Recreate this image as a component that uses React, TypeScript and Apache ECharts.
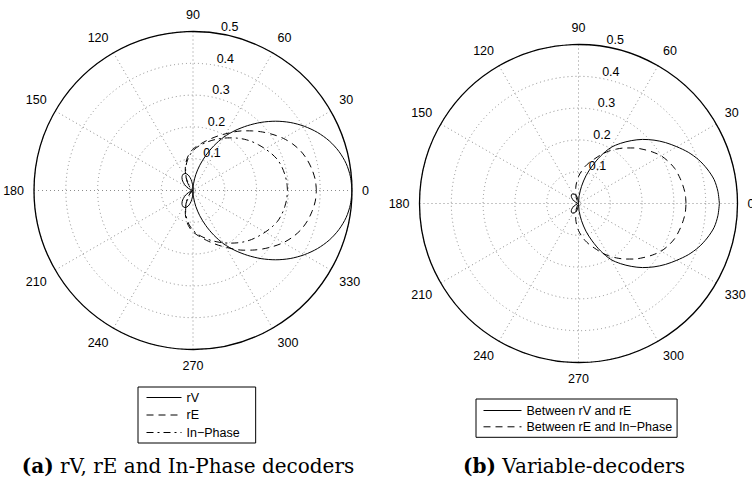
import React, { useEffect, useRef } from 'react';
import * as echarts from 'echarts';

// angles (degrees) at which the patterns were read
const ANGLES = [0, 5, 10, 15, 20, 25, 30, 35, 40, 45, 50, 55, 60, 65, 70, 75, 80, 85, 90,
  95, 100, 105, 110, 115, 120, 125, 130, 135, 140, 145, 150, 155, 160, 165, 170, 175, 180,
  185, 190, 195, 200, 205, 210, 215, 220, 225, 230, 235, 240, 245, 250, 255, 260, 265, 270,
  275, 280, 285, 290, 295, 300, 305, 310, 315, 320, 325, 330, 335, 340, 345, 350, 355, 360];

// (a) rV, rE and In-Phase decoders
const RV = [0.500, 0.497, 0.489, 0.475, 0.456, 0.432, 0.404, 0.373, 0.339, 0.303, 0.266, 0.230, 0.194, 0.155, 0.117, 0.082, 0.051, 0.023, 0,
  0.020, 0.035, 0.047, 0.055, 0.059, 0.060, 0.058, 0.054, 0.048, 0.040, 0.032, 0.024, 0.016, 0.008, 0.002, 0, 0, 0,
  0, 0, 0.002, 0.008, 0.016, 0.024, 0.032, 0.040, 0.048, 0.054, 0.058, 0.060, 0.059, 0.055, 0.047, 0.035, 0.020, 0,
  0.023, 0.051, 0.082, 0.117, 0.155, 0.194, 0.230, 0.266, 0.303, 0.339, 0.373, 0.404, 0.432, 0.456, 0.475, 0.489, 0.497, 0.500];
const RE = [0.388, 0.386, 0.380, 0.372, 0.361, 0.346, 0.328, 0.307, 0.286, 0.265, 0.245, 0.225, 0.206, 0.190, 0.175, 0.162, 0.150, 0.140, 0.130,
  0.118, 0.104, 0.088, 0.071, 0.055, 0.040, 0.029, 0.020, 0.013, 0.008, 0.004, 0.002, 0.001, 0, 0, 0, 0, 0,
  0, 0, 0, 0, 0.001, 0.002, 0.004, 0.008, 0.013, 0.020, 0.029, 0.040, 0.055, 0.071, 0.088, 0.104, 0.118, 0.130,
  0.140, 0.150, 0.162, 0.175, 0.190, 0.206, 0.225, 0.245, 0.265, 0.286, 0.307, 0.328, 0.346, 0.361, 0.372, 0.380, 0.386, 0.388];
const IN_PHASE = [0.297, 0.296, 0.293, 0.289, 0.283, 0.273, 0.262, 0.251, 0.240, 0.228, 0.215, 0.202, 0.190, 0.178, 0.167, 0.156, 0.146, 0.136, 0.125,
  0.112, 0.098, 0.083, 0.068, 0.053, 0.040, 0.029, 0.020, 0.013, 0.008, 0.004, 0.002, 0.001, 0, 0, 0, 0, 0,
  0, 0, 0, 0, 0.001, 0.002, 0.004, 0.008, 0.013, 0.020, 0.029, 0.040, 0.053, 0.068, 0.083, 0.098, 0.112, 0.125,
  0.136, 0.146, 0.156, 0.167, 0.178, 0.190, 0.202, 0.215, 0.228, 0.240, 0.251, 0.262, 0.273, 0.283, 0.289, 0.293, 0.296, 0.297];

// (b) Variable-decoders
const RV_RE = [0.443, 0.440, 0.433, 0.419, 0.402, 0.381, 0.357, 0.334, 0.310, 0.285, 0.258, 0.231, 0.203, 0.165, 0.125, 0.090, 0.055, 0.025, 0,
  0.009, 0.018, 0.025, 0.030, 0.033, 0.035, 0.036, 0.035, 0.032, 0.028, 0.022, 0.016, 0.010, 0.005, 0.002, 0, 0, 0,
  0, 0, 0.002, 0.005, 0.010, 0.016, 0.022, 0.028, 0.032, 0.035, 0.036, 0.035, 0.033, 0.030, 0.025, 0.018, 0.009, 0,
  0.025, 0.055, 0.090, 0.125, 0.165, 0.203, 0.231, 0.258, 0.285, 0.310, 0.334, 0.357, 0.381, 0.402, 0.419, 0.433, 0.440, 0.443];
const RE_INPHASE = [0.338, 0.337, 0.333, 0.328, 0.322, 0.312, 0.300, 0.283, 0.265, 0.247, 0.228, 0.209, 0.190, 0.170, 0.150, 0.134, 0.118, 0.101, 0.085,
  0.067, 0.050, 0.034, 0.020, 0.011, 0.005, 0.002, 0, 0, 0, 0, 0, 0, 0, 0, 0, 0, 0,
  0, 0, 0, 0, 0, 0, 0, 0, 0, 0, 0.002, 0.005, 0.011, 0.020, 0.034, 0.050, 0.067, 0.085,
  0.101, 0.118, 0.134, 0.150, 0.170, 0.190, 0.209, 0.228, 0.247, 0.265, 0.283, 0.300, 0.312, 0.322, 0.328, 0.333, 0.337, 0.338];

const ANGLE_MIN = 0;
const ANGLE_MAX = 360;
const ANGLE_STEP = 30;
const RADIUS_MIN = 0;
const RADIUS_MAX = 0.5;
const RADIUS_STEP = 0.1;

const SERIES_A = ['rV', 'rE', 'In\u2212Phase'];
const SERIES_B = ['Between rV and rE', 'Between rE and In\u2212Phase'];
const CAPTION_A = ['(a)', 'rV, rE and In-Phase decoders'];
const CAPTION_B = ['(b)', 'Variable-decoders'];

const SANS = 'Liberation Sans, Arial, Helvetica, sans-serif';
const SERIF = 'DejaVu Serif, serif';
const DOT = [1, 3];
const DASH = [7, 5];
const DASHDOT = [7, 4, 2, 4];
const TRANSPARENT = 'rgba(0,0,0,0)';

const R = 159;
const CENTERS: [number, number][] = [[193, 190.5], [578.5, 203.5]];

function App() {
  const ref = useRef<HTMLDivElement>(null);
  useEffect(() => {
    if (!ref.current) return;
    const chart = echarts.init(ref.current, null, { renderer: 'svg' });

    const polar: any[] = [];
    const angleAxis: any[] = [];
    const radiusAxis: any[] = [];
    CENTERS.forEach((c) => {
      polar.push({ center: c, radius: R }); // grid + curves
      polar.push({ center: c, radius: R }); // radius tick labels along the 82 degree ray
    });
    CENTERS.forEach((_c, k) => {
      const pi = k * 2;
      angleAxis.push({
        polarIndex: pi, type: 'value', min: ANGLE_MIN, max: ANGLE_MAX, interval: ANGLE_STEP,
        startAngle: 0, clockwise: false, z: 1,
        axisLine: { show: true, lineStyle: { color: '#000', width: 1.3 } },
        axisTick: { show: false },
        axisLabel: {
          show: true, margin: 10, color: '#000', fontSize: 12.5, fontFamily: SANS,
          formatter: (v: number) => (v >= ANGLE_MAX ? '' : String(v)),
        },
        splitLine: { show: true, lineStyle: { color: '#8c8c8c', width: 1, type: DOT } },
      });
      radiusAxis.push({
        polarIndex: pi, type: 'value', min: RADIUS_MIN, max: RADIUS_MAX, interval: RADIUS_STEP,
        axisLine: { show: false }, axisTick: { show: false }, axisLabel: { show: false },
        splitLine: { show: true, lineStyle: { color: '#8c8c8c', width: 1, type: DOT } },
      });
      angleAxis.push({
        polarIndex: pi + 1, type: 'value', min: ANGLE_MIN, max: ANGLE_MAX, startAngle: 82, show: false,
      });
      radiusAxis.push({
        polarIndex: pi + 1, type: 'value', min: RADIUS_MIN, max: RADIUS_MAX, interval: RADIUS_STEP,
        axisLine: { show: false }, axisTick: { show: false }, splitLine: { show: false },
        axisLabel: {
          show: true, showMinLabel: false, margin: -6, color: '#000', fontSize: 12.5, fontFamily: SANS,
          align: 'left', verticalAlign: 'bottom',
          formatter: (v: number) => v.toFixed(1),
        },
      });
    });

    const mk = (name: string, vals: number[], polarIndex: number, type: any) => ({
      type: 'line', name, coordinateSystem: 'polar', polarIndex,
      data: ANGLES.map((a, i) => [vals[i], a]),
      symbol: 'none', smooth: 0.3, z: 5,
      lineStyle: { color: '#000', width: 1, type },
      itemStyle: { color: '#000' },
    });

    const series = [
      mk(SERIES_A[0], RV, 0, 'solid'),
      mk(SERIES_A[1], RE, 0, DASH),
      mk(SERIES_A[2], IN_PHASE, 0, DASHDOT),
      mk(SERIES_B[0], RV_RE, 2, 'solid'),
      mk(SERIES_B[1], RE_INPHASE, 2, DASH),
    ];

    const legendCommon = {
      orient: 'vertical', backgroundColor: '#fff', borderColor: '#000', borderWidth: 1, borderRadius: 0,
      itemHeight: 12, selectedMode: false,
      itemStyle: { color: TRANSPARENT, borderColor: TRANSPARENT, borderWidth: 0, opacity: 0 },
      lineStyle: { color: '#000', width: 1, opacity: 1 },
      textStyle: { fontSize: 12.5, fontFamily: SANS, color: '#000', lineHeight: 12 },
    };

    const capRich = {
      b: { fontFamily: SERIF, fontSize: 20, fontWeight: 'bold', fill: '#000' },
      n: { fontFamily: SERIF, fontSize: 20, fontWeight: 'normal', fill: '#000' },
    };

    chart.setOption({
      animation: false,
      backgroundColor: '#fff',
      polar,
      angleAxis,
      radiusAxis,
      legend: [
        { ...legendCommon, data: SERIES_A, left: 138, top: 387, padding: [4, 16, 4, 8], itemGap: 4.5, itemWidth: 35 },
        { ...legendCommon, data: SERIES_B, left: 476, top: 399, padding: [5, 5, 4, 7], itemGap: 3.3, itemWidth: 38 },
      ],
      series,
      graphic: [
        {
          type: 'text', x: 188, y: 466,
          style: { text: `{b|${CAPTION_A[0]}} {n|${CAPTION_A[1]}}`, rich: capRich, align: 'center', verticalAlign: 'middle', fontFamily: SERIF, fontSize: 20 },
        },
        {
          type: 'text', x: 574, y: 466,
          style: { text: `{b|${CAPTION_B[0]}} {n|${CAPTION_B[1]}}`, rich: capRich, align: 'center', verticalAlign: 'middle', fontFamily: SERIF, fontSize: 20 },
        },
      ],
    });
    return () => chart.dispose();
  }, []);
  return <div ref={ref} style={{ position: 'absolute', left: 0, top: 0, width: 752, height: 477 }} />;
}

export default App;
